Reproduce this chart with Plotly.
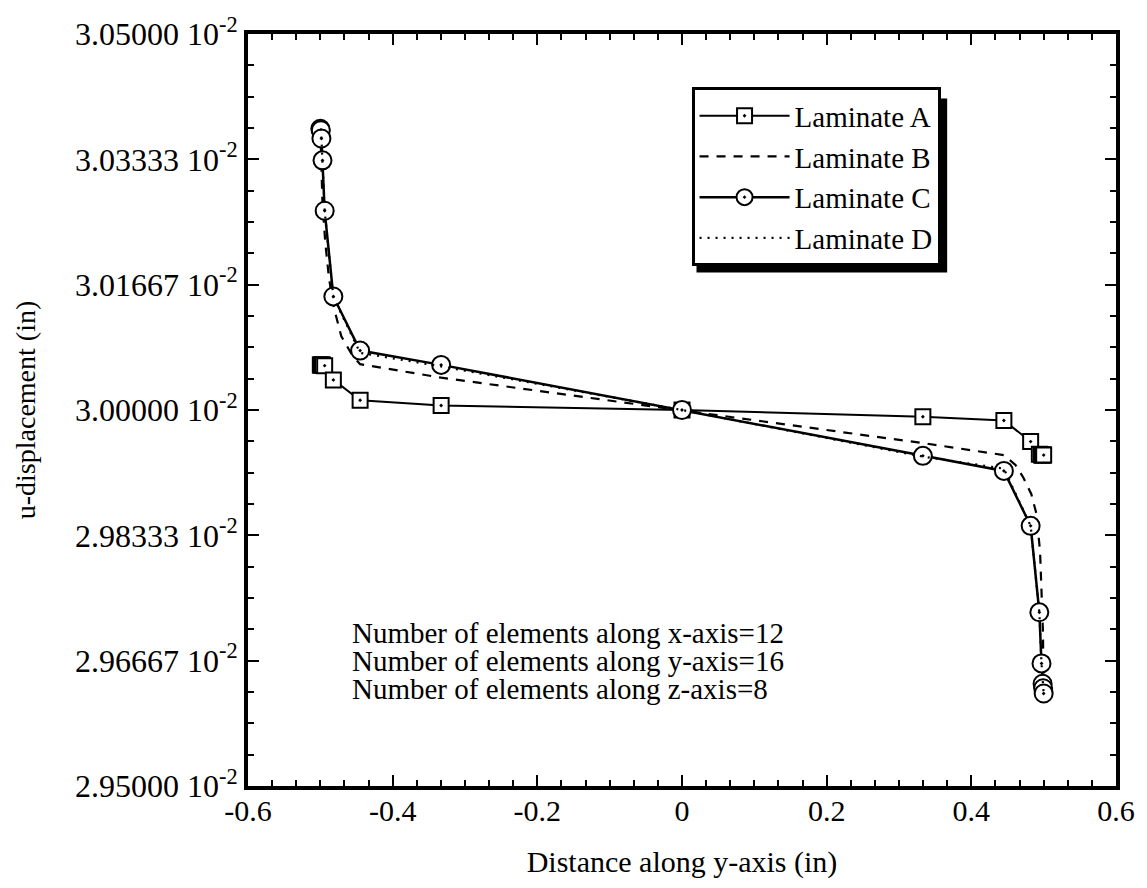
import plotly.graph_objects as go

# ---------------- data (u-displacement in units of 10^-2 in) ----------------
x_nodes = [-0.5, -0.4993, -0.4985, -0.497, -0.494, -0.482, -0.445, -0.333, 0.0,
           0.333, 0.445, 0.482, 0.494, 0.497, 0.4985, 0.4993, 0.5]

lam_a = [3.0060, 3.0060, 3.0060, 3.0060, 3.0059, 3.0040, 3.0013, 3.0006, 3.0000,
         2.9991, 2.9986, 2.9958, 2.9941, 2.9940, 2.9940, 2.9940, 2.9940]

lam_c = [3.0374, 3.0372, 3.0361, 3.0332, 3.0265, 3.0151, 3.0079, 3.0060, 3.0000,
         2.9939, 2.9919, 2.9846, 2.9731, 2.9663, 2.9636, 2.9630, 2.9623]

lam_d = [3.0374, 3.0372, 3.0361, 3.0332, 3.0265, 3.0150, 3.0076, 3.0058, 3.0000,
         2.9938, 2.9922, 2.9846, 2.9731, 2.9663, 2.9636, 2.9630, 2.9623]

lam_b_x = [-0.5, -0.499, -0.497, -0.493, -0.488, -0.481, -0.471, -0.456, -0.445, -0.333, 0.0,
           0.333, 0.445, 0.461, 0.472, 0.483, 0.49, 0.495, 0.497, 0.499, 0.5]
lam_b = [3.0374, 3.0327, 3.0274, 3.0221, 3.0175, 3.0135, 3.0098, 3.0073, 3.0061, 3.0043, 3.0000,
         2.9956, 2.9940, 2.9927, 2.9910, 2.9888, 2.9862, 2.9812, 2.9759, 2.9706, 2.9623]

series_names = ["Laminate A", "Laminate B", "Laminate C", "Laminate D"]

x_tick_vals = [-0.6, -0.4, -0.2, 0.0, 0.2, 0.4, 0.6]
x_tick_text = ["-0.6", "-0.4", "-0.2", "0", "0.2", "0.4", "0.6"]
y_tick_vals = [2.95, 2.966667, 2.983333, 3.0, 3.016667, 3.033333, 3.05]
y_tick_text = ["2.95000 10<sup>-2</sup>", "2.96667 10<sup>-2</sup>", "2.98333 10<sup>-2</sup>",
               "3.00000 10<sup>-2</sup>", "3.01667 10<sup>-2</sup>", "3.03333 10<sup>-2</sup>",
               "3.05000 10<sup>-2</sup>"]

notes = ["Number of elements along x-axis=12",
         "Number of elements along y-axis=16",
         "Number of elements along z-axis=8"]

FONT = "Liberation Serif"

fig = go.Figure()

fig.add_trace(go.Scatter(
    x=x_nodes, y=lam_a, name=series_names[0], mode="lines+markers",
    line=dict(color="black", width=2),
    marker=dict(symbol="square-dot", size=15, color="white",
                line=dict(color="black", width=2)),
))
fig.add_trace(go.Scatter(
    x=lam_b_x, y=lam_b, name=series_names[1], mode="lines",
    line=dict(color="black", width=2.2, dash="9px,8px"),
))
fig.add_trace(go.Scatter(
    x=x_nodes, y=lam_c, name=series_names[2], mode="lines+markers",
    line=dict(color="black", width=2.5),
    marker=dict(symbol="circle-dot", size=18, color="white",
                line=dict(color="black", width=2)),
))
fig.add_trace(go.Scatter(
    x=x_nodes, y=lam_d, name=series_names[3], mode="lines",
    line=dict(color="black", width=2.2, dash="2px,6px"),
))

note_y = [0.2034, 0.1664, 0.1295]
for txt, yy in zip(notes, note_y):
    fig.add_annotation(text=txt, xref="paper", yref="paper", x=0.117, y=yy,
                       xanchor="left", yanchor="middle", showarrow=False,
                       font=dict(family=FONT, size=29, color="black"))

# legend drop shadow (drawn beneath the legend box)
fig.add_shape(type="rect", xref="paper", yref="paper",
              x0=0.5167, x1=0.8055, y0=0.6830, y1=0.9141,
              fillcolor="black", line=dict(width=0), layer="above")

axis_common = dict(
    showline=True, linewidth=4, linecolor="black", mirror="allticks",
    ticks="inside", ticklen=11, tickwidth=2, tickcolor="black",
    showgrid=False, zeroline=False,
)

fig.update_xaxes(
    range=[-0.6, 0.6], tickmode="array", tickvals=x_tick_vals, ticktext=x_tick_text,
    tickfont=dict(family=FONT, size=30, color="black"),
    minor=dict(ticks="inside", ticklen=6, tickwidth=2, tickcolor="black",
               tickmode="linear", tick0=-0.6, dtick=0.2 / 6, showgrid=False),
    title=dict(text="Distance along y-axis (in)", standoff=26,
               font=dict(family=FONT, size=30, color="black")),
    ticklabelstandoff=-5,
    **axis_common,
)
fig.update_yaxes(
    range=[2.95, 3.05], tickmode="array", tickvals=y_tick_vals, ticktext=y_tick_text,
    tickfont=dict(family=FONT, size=32, color="black"),
    minor=dict(ticks="inside", ticklen=6, tickwidth=2, tickcolor="black",
               tickmode="linear", tick0=2.95, dtick=0.1 / 24, showgrid=False),
    title=dict(text="u-displacement (in)", standoff=32,
               font=dict(family=FONT, size=28, color="black")),
    **axis_common,
)

fig.update_layout(
    width=1147, height=888,
    margin=dict(l=248, r=30, t=29, b=102),
    paper_bgcolor="white", plot_bgcolor="white",
    font=dict(family=FONT, color="black"),
    legend=dict(x=0.511, y=0.929, xanchor="left", yanchor="top",
                bgcolor="white", bordercolor="black", borderwidth=3,
                font=dict(family=FONT, size=29, color="black"),
                itemwidth=90, tracegroupgap=0),
)

fig.write_html("out.html")
